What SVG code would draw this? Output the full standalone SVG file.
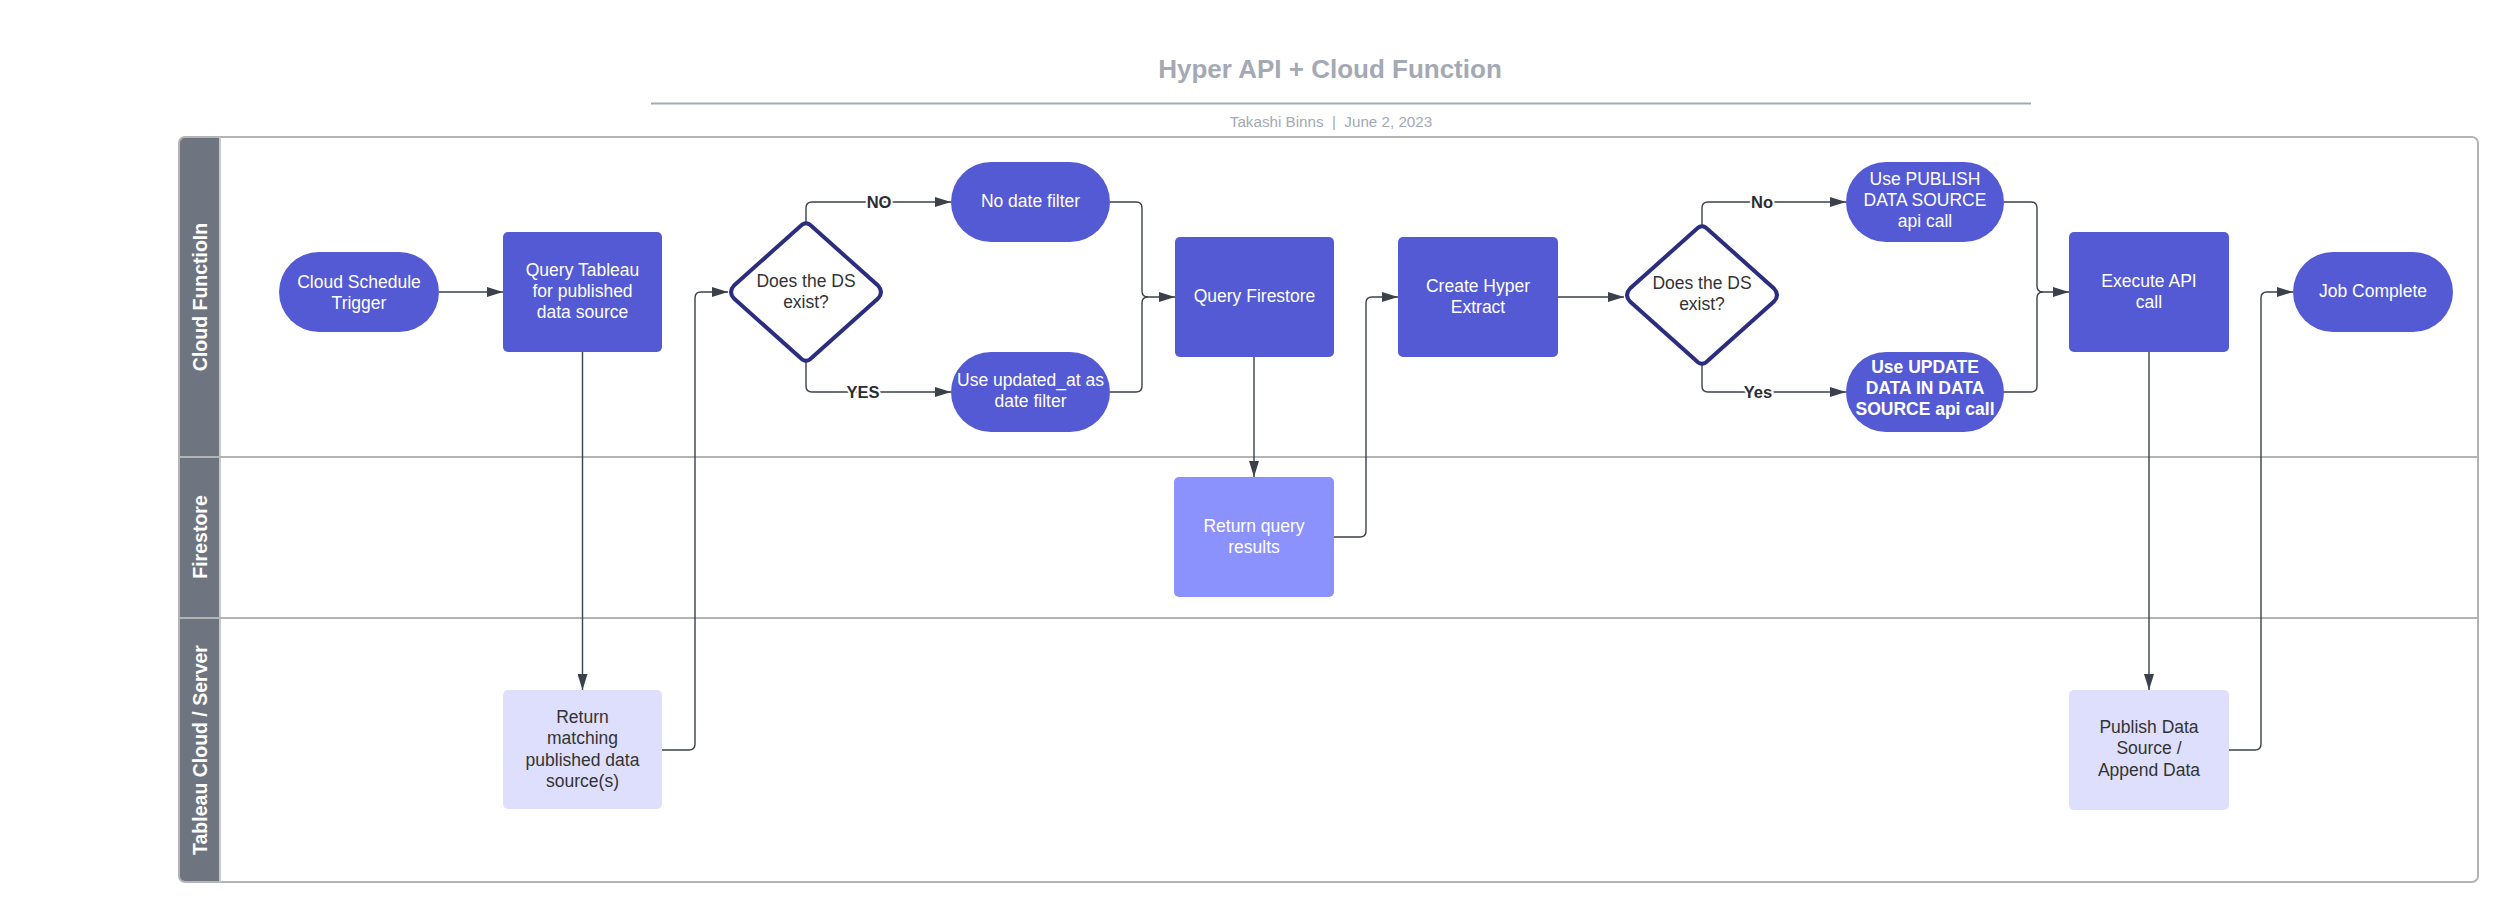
<svg xmlns="http://www.w3.org/2000/svg" width="2519" height="922" viewBox="0 0 2519 922">
<style>
  .title { font-family: "Liberation Sans", Arial, sans-serif; font-weight: bold; font-size: 26px; fill: #a3a9b5; text-anchor: middle; }
  .sub { font-family: "Liberation Sans", Arial, sans-serif; font-size: 15.2px; fill: #a3a9b5; text-anchor: middle; white-space: pre; }
  .lane { font-family: "Liberation Sans", Arial, sans-serif; font-weight: bold; font-size: 19.5px; fill: #ffffff; text-anchor: middle; }
  .dark { fill: #535ad4; }
  .light { fill: #dedffc; }
  .mid { fill: #8c92fd; }
  .t { font-family: "Liberation Sans", Arial, sans-serif; font-size: 17.5px; fill: #ffffff; text-anchor: middle; }
  .tb { font-weight: bold; }
  .td { fill: #333333; }
  .dia { fill: #ffffff; stroke: #2b2e7f; stroke-width: 4; stroke-linejoin: round; }
  .conn { fill: none; stroke: #3a414a; stroke-width: 1.4; }
  .lbl { font-family: "Liberation Sans", Arial, sans-serif; font-weight: bold; font-size: 16.5px; fill: #2a2d33; text-anchor: middle; stroke: #ffffff; stroke-width: 4; paint-order: stroke; }
</style>
<defs>
  <marker id="arr" markerWidth="16" markerHeight="10" refX="16" refY="5" orient="auto" markerUnits="userSpaceOnUse">
    <path d="M0,0 L16,5 L0,10 Z" fill="#3a414a"/>
  </marker>
</defs>
<rect x="0" y="0" width="2519" height="922" fill="#ffffff"/>

<g id="header">
  <text class="title" x="1330" y="78">Hyper API + Cloud Function</text>
  <line x1="651" y1="103.5" x2="2031" y2="103.5" stroke="#a3a9b5" stroke-width="2"/>
  <text class="sub" x="1331" y="127">Takashi Binns  |  June 2, 2023</text>
</g>

<g id="pool">
  <path d="M185,137 H220 V882 H185 Q179,882 179,876 V143 Q179,137 185,137 Z" fill="#6f7580"/>
  <rect x="179" y="137" width="2299" height="745" rx="6" fill="none" stroke="#b4b4b4" stroke-width="2"/>
  <line x1="220" y1="137" x2="220" y2="882" stroke="#c8c8c8" stroke-width="2"/>
  <line x1="179" y1="457" x2="2478" y2="457" stroke="#b4b4b4" stroke-width="2"/>
  <line x1="179" y1="618" x2="2478" y2="618" stroke="#b4b4b4" stroke-width="2"/>
  <text class="lane" transform="translate(206.5,297) rotate(-90)">Cloud FunctioIn</text>
  <text class="lane" transform="translate(206.5,537) rotate(-90)">Firestore</text>
  <text class="lane" transform="translate(206.5,750) rotate(-90)">Tableau Cloud / Server</text>
</g>

<g id="connectors">
  <path class="conn" d="M439,292 H503" marker-end="url(#arr)"/>
  <path class="conn" d="M582.5,352 V690" stroke="#111" marker-end="url(#arr)"/>
  <path class="conn" d="M662,750 H689 Q695,750 695,744 V298 Q695,292 701,292 H728" marker-end="url(#arr)"/>
  <path class="conn" d="M806,224 V208 Q806,202 812,202 H951" marker-end="url(#arr)"/>
  <path class="conn" d="M806,361 V386 Q806,392 812,392 H951" marker-end="url(#arr)"/>
  <path class="conn" d="M1110,202 H1136 Q1142,202 1142,208 V291 Q1142,297 1148,297 H1175" marker-end="url(#arr)"/>
  <path class="conn" d="M1110,392 H1136 Q1142,392 1142,386 V303 Q1142,297 1148,297"/>
  <path class="conn" d="M1254,357 V477" marker-end="url(#arr)"/>
  <path class="conn" d="M1334,537 H1360 Q1366,537 1366,531 V303 Q1366,297 1372,297 H1398" marker-end="url(#arr)"/>
  <path class="conn" d="M1558,297 H1624" marker-end="url(#arr)"/>
  <path class="conn" d="M1702,226.5 V208 Q1702,202 1708,202 H1846" marker-end="url(#arr)"/>
  <path class="conn" d="M1702,363.5 V386 Q1702,392 1708,392 H1846" marker-end="url(#arr)"/>
  <path class="conn" d="M2004,202 H2031 Q2037,202 2037,208 V286 Q2037,292 2043,292 H2069" marker-end="url(#arr)"/>
  <path class="conn" d="M2004,392 H2031 Q2037,392 2037,386 V298 Q2037,292 2043,292"/>
  <path class="conn" d="M2149,352 V690" marker-end="url(#arr)"/>
  <path class="conn" d="M2229,750 H2255 Q2261,750 2261,744 V298 Q2261,292 2267,292 H2293" marker-end="url(#arr)"/>
  <text class="lbl" x="879" y="208">NO</text>
  <text class="lbl" x="863" y="398">YES</text>
  <text class="lbl" x="1762" y="208">No</text>
  <text class="lbl" x="1758" y="398">Yes</text>
</g>

<g id="trigger">
  <rect class="dark" x="279" y="252" width="160" height="80" rx="40"/>
  <text class="t" x="359" y="287.5">Cloud Schedule</text>
  <text class="t" x="359" y="308.5">Trigger</text>
</g>
<g id="query_tableau">
  <rect class="dark" x="503" y="232" width="159" height="120" rx="5"/>
  <text class="t" x="582.5" y="276">Query Tableau</text>
  <text class="t" x="582.5" y="297">for published</text>
  <text class="t" x="582.5" y="318">data source</text>
</g>
<g id="decision1">
  <path class="dia" d="M800,226.5 Q806,220 812,226.5 L878,285.5 Q884,292 878,298.5 L812,357.5 Q806,364 800,357.5 L734,298.5 Q728,292 734,285.5 Z"/>
  <text class="t td" x="806" y="287">Does the DS</text>
  <text class="t td" x="806" y="308">exist?</text>
</g>
<g id="no_date_filter">
  <rect class="dark" x="951" y="162" width="159" height="80" rx="40"/>
  <text class="t" x="1030.5" y="207">No date filter</text>
</g>
<g id="updated_at_filter">
  <rect class="dark" x="951" y="352" width="159" height="80" rx="40"/>
  <text class="t" x="1030.5" y="386">Use updated_at as</text>
  <text class="t" x="1030.5" y="407">date filter</text>
</g>
<g id="query_firestore">
  <rect class="dark" x="1175" y="237" width="159" height="120" rx="5"/>
  <text class="t" x="1254.5" y="302">Query Firestore</text>
</g>
<g id="return_query_results">
  <rect class="mid" x="1174" y="477" width="160" height="120" rx="5"/>
  <text class="t" x="1254" y="532">Return query</text>
  <text class="t" x="1254" y="553">results</text>
</g>
<g id="create_hyper">
  <rect class="dark" x="1398" y="237" width="160" height="120" rx="5"/>
  <text class="t" x="1478" y="292">Create Hyper</text>
  <text class="t" x="1478" y="313">Extract</text>
</g>
<g id="decision2">
  <path class="dia" d="M1696,229.5 Q1702,223 1708,229.5 L1774,288.5 Q1780,295 1774,301.5 L1708,360.5 Q1702,367 1696,360.5 L1630,301.5 Q1624,295 1630,288.5 Z"/>
  <text class="t td" x="1702" y="289">Does the DS</text>
  <text class="t td" x="1702" y="310">exist?</text>
</g>
<g id="publish_call">
  <rect class="dark" x="1846" y="162" width="158" height="80" rx="40"/>
  <text class="t" x="1925" y="185">Use PUBLISH</text>
  <text class="t" x="1925" y="206">DATA SOURCE</text>
  <text class="t" x="1925" y="227">api call</text>
</g>
<g id="update_call">
  <rect class="dark" x="1846" y="352" width="158" height="80" rx="40"/>
  <text class="t tb" x="1925" y="373">Use UPDATE</text>
  <text class="t tb" x="1925" y="394">DATA IN DATA</text>
  <text class="t tb" x="1925" y="415">SOURCE api call</text>
</g>
<g id="execute_api">
  <rect class="dark" x="2069" y="232" width="160" height="120" rx="5"/>
  <text class="t" x="2149" y="287">Execute API</text>
  <text class="t" x="2149" y="308">call</text>
</g>
<g id="job_complete">
  <rect class="dark" x="2293" y="252" width="160" height="80" rx="40"/>
  <text class="t" x="2373" y="297">Job Complete</text>
</g>
<g id="return_matching">
  <rect class="light" x="503" y="690" width="159" height="119" rx="5"/>
  <text class="t td" x="582.5" y="723">Return</text>
  <text class="t td" x="582.5" y="744">matching</text>
  <text class="t td" x="582.5" y="766">published data</text>
  <text class="t td" x="582.5" y="787">source(s)</text>
</g>
<g id="publish_data">
  <rect class="light" x="2069" y="690" width="160" height="120" rx="5"/>
  <text class="t td" x="2149" y="733">Publish Data</text>
  <text class="t td" x="2149" y="754">Source /</text>
  <text class="t td" x="2149" y="776">Append Data</text>
</g>
</svg>
